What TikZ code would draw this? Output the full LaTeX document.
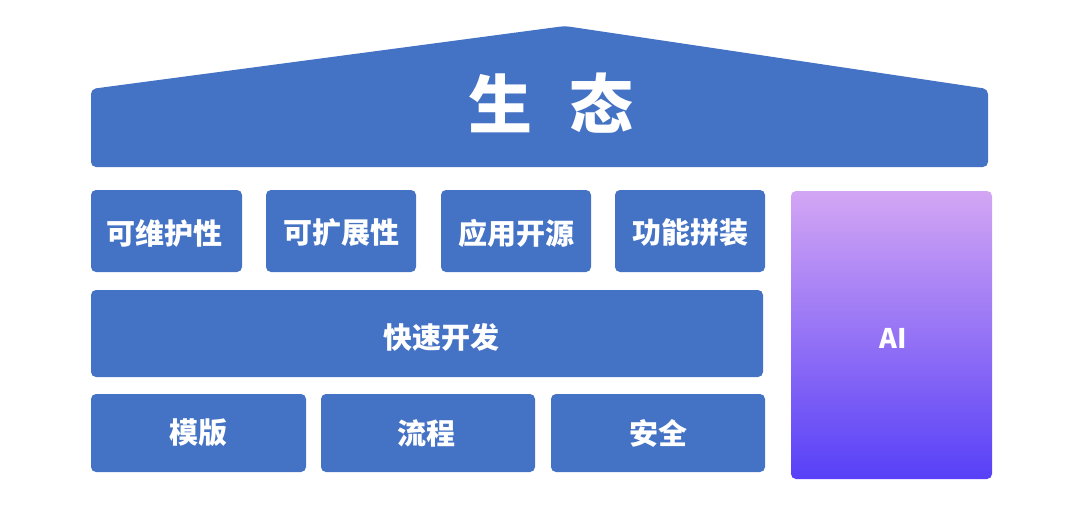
\documentclass[tikz,border=0pt]{standalone}
\usepackage{fontspec}
\newfontfamily\cjk{Noto Sans CJK SC}
\definecolor{boxblue}{HTML}{4472C4}
\definecolor{aitop}{HTML}{D3A6F4}
\definecolor{aimid}{HTML}{9C7BF3}
\definecolor{aibot}{HTML}{5740F7}
\tikzset{
  blk/.style={fill=boxblue, rounded corners=5pt, inner sep=0pt},
  lbl/.style={text=white, inner sep=0pt, font=\cjk\bfseries\fontsize{29}{29}\selectfont},
}
\begin{document}
\begin{tikzpicture}[x=1pt,y=-1pt]
\useasboundingbox (0,0) rectangle (1080,520);
% roof
\fill[boxblue, rounded corners=5pt] (91,167) -- (91,89) -- (565,26) -- (988,89) -- (988,167) -- cycle;
\node[text=white, font=\cjk\bfseries\fontsize{64}{64}\selectfont] (roof) at (551,103) {生\hspace{38pt}态};
% row 1
\node[blk, minimum width=151pt, minimum height=82pt] (b1) at (166.5,231) {};
\node[blk, minimum width=150pt, minimum height=82pt] (b2) at (341,231) {};
\node[blk, minimum width=150pt, minimum height=82pt] (b3) at (516,231) {};
\node[blk, minimum width=150pt, minimum height=82pt] (b4) at (690,231) {};
\node[lbl] (t1) at ([xshift=-2pt,yshift=-2pt]b1.center) {可维护性};
\node[lbl] (t2) at ([yshift=-2pt]b2.center) {可扩展性};
\node[lbl] (t3) at ([yshift=-2pt]b3.center) {应用开源};
\node[lbl] (t4) at ([yshift=-2pt]b4.center) {功能拼装};
% row 2
\node[blk, minimum width=672pt, minimum height=87pt] (fast) at (427,333.5) {};
\node[lbl] (tf) at ([xshift=14pt,yshift=-4pt]fast.center) {快速开发};
% row 3
\node[blk, minimum width=215pt, minimum height=78pt] (c1) at (198.5,433) {};
\node[blk, minimum width=214pt, minimum height=78pt] (c2) at (428,433) {};
\node[blk, minimum width=214pt, minimum height=78pt] (c3) at (658,433) {};
\node[lbl] (s1) at (c1.center) {模版};
\node[lbl] (s2) at ([xshift=-2pt]c2.center) {流程};
\node[lbl] (s3) at (c3.center) {安全};
% AI
\node[rounded corners=5pt, inner sep=0pt, minimum width=201pt, minimum height=288pt,
  top color=aitop, middle color=aimid, bottom color=aibot] (ai) at (891.5,335) {};
\node[text=white, inner sep=0pt, font=\cjk\bfseries\fontsize{27}{27}\selectfont] (tai) at ([xshift=2pt,yshift=-3pt]ai.center) {AI};
\end{tikzpicture}
\end{document}
